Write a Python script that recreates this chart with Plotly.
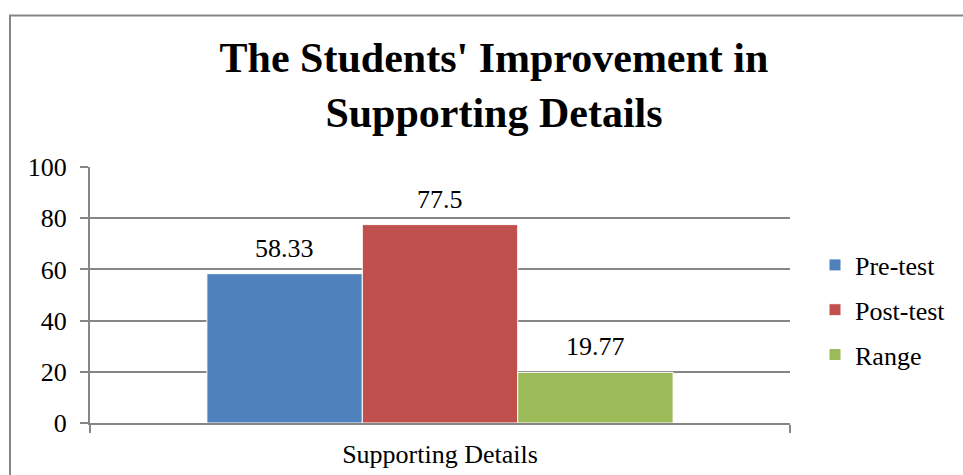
import plotly.graph_objects as go

categories = ["Supporting Details"]
series_names = ["Pre-test", "Post-test", "Range"]
series_values = [[58.33], [77.5], [19.77]]
series_labels = ["58.33", "77.5", "19.77"]
colors = ["#4F81BD", "#C0504D", "#9BBB59"]
y_ticks = [0, 20, 40, 60, 80, 100]

FONT = "Liberation Serif, Times New Roman, serif"
FS = 26

L, R, T, B = 90, 173, 167, 52
W, H = 963, 475
pw, ph = W - L - R, H - T - B
BARGAP = 0.334
n = len(series_names)
bar_px = pw * (1 - BARGAP) / n

fig = go.Figure()
for name, vals, col in zip(series_names, series_values, colors):
    fig.add_trace(go.Bar(
        x=categories, y=vals, name=name, legendgroup=name,
        marker=dict(color=col, line=dict(color="white", width=1)),
    ))

# data labels above bars
for i, (vals, lab) in enumerate(zip(series_values, series_labels)):
    for c, v in zip(categories, vals):
        fig.add_annotation(x=c, y=v, text=lab, showarrow=False,
                           xref="x", yref="y", xanchor="center", yanchor="bottom",
                           xshift=(i - (n - 1) / 2) * bar_px, yshift=9,
                           font=dict(family=FONT, size=FS, color="black"))

fig.update_layout(
    width=W, height=H,
    margin=dict(l=L, r=R, t=T, b=B, pad=0, autoexpand=False),
    paper_bgcolor="white", plot_bgcolor="white",
    barmode="group", bargap=BARGAP, bargroupgap=0.0,
    title=dict(text="<b>The Students' Improvement in<br>Supporting Details</b>",
               x=494 / W, xanchor="center", y=1 - 72 / H, yanchor="middle",
               font=dict(family=FONT, size=42, color="black")),
    font=dict(family=FONT, size=FS, color="black"),
    showlegend=True,
    legend=dict(x=(815 - L) / pw, y=(H - B - 310) / ph, xanchor="left", yanchor="middle",
                font=dict(family=FONT, size=FS, color="black"),
                itemwidth=30, traceorder="grouped", tracegroupgap=8,
                bgcolor="rgba(0,0,0,0)"),
    xaxis=dict(showline=True, linecolor="#868686", linewidth=2, automargin=False,
               ticks="outside", tickson="boundaries", ticklen=8, tickcolor="#868686",
               tickwidth=2, showgrid=False, ticklabelstandoff=7,
               tickfont=dict(family=FONT, size=FS, color="black")),
    yaxis=dict(range=[0, 100], tickvals=y_ticks, showline=True, linecolor="#868686",
               linewidth=2, ticks="outside", ticklen=8, tickcolor="#868686", tickwidth=2,
               showgrid=True, gridcolor="#868686", gridwidth=2, zeroline=False,
               ticklabelstandoff=8, automargin=False,
               tickfont=dict(family=FONT, size=FS, color="black")),
)

# outer chart border (extends past right/bottom edges as in the reference)
fig.add_shape(type="rect", xref="paper", yref="paper",
              x0=(10 - L) / pw, x1=(W + 20 - L) / pw,
              y0=(H - B - (H + 20)) / ph, y1=(H - B - 15.5) / ph,
              line=dict(color="#868686", width=2), fillcolor="rgba(0,0,0,0)", layer="below")

fig.write_html("out.html")
